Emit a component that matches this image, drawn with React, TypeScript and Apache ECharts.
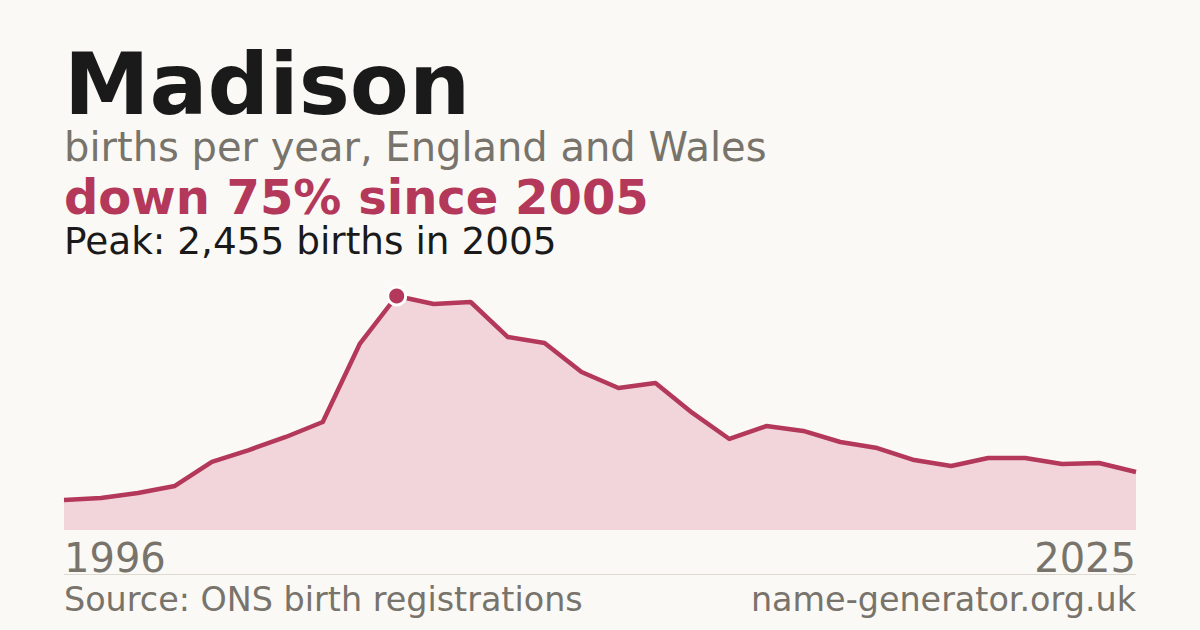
import React, { useEffect, useRef } from 'react';
import * as echarts from 'echarts';

const years = [
  '1996', '1997', '1998', '1999', '2000', '2001', '2002', '2003', '2004', '2005',
  '2006', '2007', '2008', '2009', '2010', '2011', '2012', '2013', '2014', '2015',
  '2016', '2017', '2018', '2019', '2020', '2021', '2022', '2023', '2024', '2025',
];
const births = [
  315, 336, 388, 462, 714, 839, 976, 1133, 1952, 2455,
  2371, 2392, 2025, 1962, 1658, 1490, 1542, 1228, 955, 1091,
  1039, 923, 860, 734, 671, 755, 755, 692, 703, 608,
];

const FONT = '"DejaVu Sans", sans-serif';
const RED = '#b3385a';
const GREY = '#78736b';

const App: React.FC = () => {
  const chartRef = useRef<HTMLDivElement>(null);

  useEffect(() => {
    if (!chartRef.current) return;
    const chart = echarts.init(chartRef.current, null, { renderer: 'svg' });

    const peak = Math.max(...births);
    const peakIdx = births.indexOf(peak);
    const last = years.length - 1;

    const option: echarts.EChartsOption = {
      animation: false,
      backgroundColor: '#faf9f5',
      grid: { left: 64, right: 64, top: 296, bottom: 100, containLabel: false },
      xAxis: {
        type: 'category',
        data: years,
        boundaryGap: false,
        axisLine: { show: false },
        axisTick: { show: false },
        splitLine: { show: false },
        axisLabel: {
          interval: (i: number) => i === 0 || i === last,
          color: GREY,
          fontFamily: FONT,
          fontSize: 40,
          margin: 8,
          alignMinLabel: 'left',
          alignMaxLabel: 'right',
        },
      },
      yAxis: {
        type: 'value',
        show: false,
        min: 0,
        max: peak,
      },
      series: [
        {
          type: 'line',
          data: births,
          symbol: 'none',
          lineStyle: { color: RED, width: 4.5, join: 'round' },
          areaStyle: { color: '#f2d5da', opacity: 1 },
          z: 2,
        },
        {
          type: 'scatter',
          data: [[peakIdx, peak]],
          symbol: 'circle',
          symbolSize: 18,
          itemStyle: { color: RED, borderColor: '#ffffff', borderWidth: 3, opacity: 1 },
          z: 3,
        },
      ],
      graphic: [
        {
          type: 'text', left: 64, top: 41,
          style: { text: 'Madison', font: `bold 86px ${FONT}`, fill: '#1a1a1a' },
        },
        {
          type: 'text', left: 64, top: 127,
          style: { text: 'births per year, England and Wales', font: `40px ${FONT}`, fill: GREY },
        },
        {
          type: 'text', left: 64, top: 173,
          style: { text: 'down 75% since 2005', font: `bold 48px ${FONT}`, fill: RED },
        },
        {
          type: 'text', left: 64, top: 222,
          style: { text: 'Peak: 2,455 births in 2005', font: `37.4px ${FONT}`, fill: '#1a1a1a' },
        },
        {
          type: 'line',
          shape: { x1: 64, y1: 574.5, x2: 1136, y2: 574.5 },
          style: { stroke: '#dedad2', lineWidth: 1 },
        },
        {
          type: 'text', left: 64, top: 583,
          style: { text: 'Source: ONS birth registrations', font: `33.4px ${FONT}`, fill: GREY },
        },
        {
          type: 'text', right: 64, top: 583,
          style: { text: 'name-generator.org.uk', font: `33.4px ${FONT}`, fill: GREY },
        },
      ],
    };

    chart.setOption(option);
    return () => chart.dispose();
  }, []);

  return (
    <div
      ref={chartRef}
      style={{ position: 'fixed', left: 0, top: 0, width: 1200, height: 630 }}
    />
  );
};

export default App;
